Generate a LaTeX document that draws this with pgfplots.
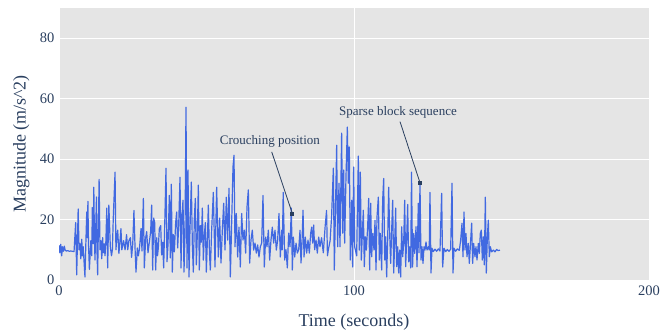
\documentclass[border=0pt]{standalone}
\usepackage{pgfplots}
\pgfplotsset{compat=1.18}
\usepackage{fontspec}
\setmainfont{Liberation Serif}
\definecolor{bgc}{HTML}{E5E5E5}
\definecolor{txt}{HTML}{2A3F5F}
\definecolor{arr}{HTML}{2A3F5F}
\definecolor{line}{HTML}{4169E1}
\begin{document}
\begin{tikzpicture}
\useasboundingbox (-59bp,-53bp) rectangle (608bp,280bp);
\begin{axis}[
  scale only axis,
  width=590bp, height=272bp,
  xmin=0, xmax=200, ymin=0, ymax=90,
  xtick={0,100,200}, ytick={0,20,40,60,80},
  grid=major,
  major grid style={white, line width=0.9bp},
  axis background/.style={fill=bgc},
  axis line style={draw=none},
  tick style={draw=none},
  /pgf/number format/assume math mode=true,
  ticklabel style={font=\fontsize{14.5bp}{17bp}\selectfont, text=txt},
  xticklabel style={yshift=-2bp},
  yticklabel style={xshift=-1bp},
  every axis x label/.style={at={(axis description cs:0.5,-0.154)},anchor=center},
  every axis y label/.style={at={(axis description cs:-0.064,0.5)},rotate=90,anchor=center},
  label style={font=\fontsize{18bp}{21bp}\selectfont, text=txt},
  xlabel={Time (seconds)},
  ylabel={Magnitude (m/s\textasciicircum 2)},
  clip=true,
]
\addplot[line, line width=1.2bp, line join=round] table {
0 11.5
0.3 9
0.6 11.8
0.9 8
1.2 11
1.5 9.5
1.8 11.2
2.1 9.8
2.5 9.6
3.0 9.7
3.5 9.5
4.0 9.6
4.5 9.5
5.1 9.4
5.65 19
6.0 1.7
6.5 23.5
6.8 10
7.1 12
7.4 7
7.7 13.5
8.0 8
8.2 11
8.5 6
8.8 1
9.1 12
9.4 22.5
9.6 14
9.8 26
10.0 12
10.3 3.5
10.8 13
11.1 8
11.3 24
11.6 12
11.8 30.7
12.0 15
12.2 6.6
12.7 27.5
12.9 9
13.1 1.7
13.6 33.3
13.9 10
14.2 13
14.5 7
14.8 14
15.0 9
15.3 12
15.6 8
15.9 13
16.2 23.8
16.5 4
16.9 24.8
17.4 11
17.8 8
18.1 10
18.4 20.5
19.0 35.7
19.3 10
19.6 14
19.9 16.5
20.3 8.8
20.6 12
21.0 17
21.3 10
21.5 11
21.9 13
22.4 10
22.9 15
23.3 10
23.7 13
24.2 14
24.6 7.5
25.0 12
25.4 23
25.8 10
26.1 2.6
26.56 10.6
26.9 8
27.23 10
27.5 13
27.8 17
28.14 9.6
28.6 27
28.93 4
29.38 14
29.72 16
30.17 9
30.62 12.5
31.07 16
31.41 24.8
31.75 3.3
32.09 20.5
32.43 19
32.77 3.3
33.11 14
33.4 8
33.67 10.6
34.01 17
34.47 18
34.8 8.3
35.14 12.5
35.48 4
35.93 22
36.27 37
36.61 6
36.95 11.6
37.4 28
37.74 7.3
38.08 31.7
38.42 2.6
38.76 15
39.1 9.3
39.55 19
39.89 22.5
40.23 10.6
40.57 18
41.02 34
41.36 4
41.7 21.5
42.04 26.4
42.37 2.6
42.71 15
43.05 57.2
43.39 4
43.73 36.4
44.07 1
44.41 17
44.86 32.4
45.2 11.6
45.54 2.6
45.88 20.5
46.22 27
46.56 5
46.9 15.5
47.23 31.4
47.57 3.3
47.91 18
48.25 12.5
48.59 23.8
48.93 6.6
49.27 15
49.61 19
49.94 2.6
50.28 12.5
50.62 24.8
51.0 9
51.3 3.3
51.75 16.5
52.31 29
52.88 4.3
53.44 30.7
54.01 7.6
54.46 20.5
54.91 5.6
55.37 16.5
55.82 25.4
56.27 9.9
56.72 27.4
57.17 13.2
57.63 30.4
58.08 1
58.53 18.8
58.98 37.4
59.32 41.3
59.66 11
60.11 22
60.56 7.6
61.01 17.5
61.47 4.3
61.92 22
62.37 13.2
62.82 16.5
63.27 8.9
63.73 24.1
64.18 29.8
64.63 5.6
65.08 13.2
65.53 16.5
65.99 9.9
66.44 12.2
66.89 8.9
67.34 11.6
67.79 7.6
68.25 11
68.7 12.2
69.15 28
69.6 4.3
70.05 14.2
70.51 11
70.96 16.5
71.41 6.6
71.86 13.2
72.31 17.5
72.77 12.2
73.22 16.5
73.67 9.9
74.12 13.2
74.57 22
75.03 7.6
75.48 16.5
75.7 10
76.0 29
76.5 6.6
76.95 10
77.4 4
77.86 15.5
78.31 11
78.76 23.8
79.1 3.3
79.44 14.2
79.9 7.6
80.35 12.2
80.8 8.9
81.25 10
81.7 16.5
82.04 5.6
82.38 12.6
82.72 23.1
83.06 7.6
83.5 14.2
83.96 8.9
84.41 13.2
84.86 8.9
85.32 15.5
85.66 17.5
86.0 12.2
86.33 18.2
86.67 10
87.12 13.2
87.57 8.9
88.03 14.2
88.47 11
89.0 14
89.6 9
90.2 17.5
90.7 23
91.0 8
91.3 10
91.9 13
92.4 20.9
93.0 37
93.33 3.3
93.78 26.4
94.12 44.6
94.46 11
94.91 32
95.25 11
95.81 48.6
96.15 15.5
96.49 36.4
96.83 12.2
97.28 34
97.74 50.6
98.07 32
98.41 44
98.75 6.6
99.2 26.4
99.54 4.3
99.88 37.4
100.22 11
100.9 8
101.47 41
101.81 9.9
102.15 35.7
102.49 6.6
102.83 15.4
103.16 23.1
103.5 4.4
103.84 14.3
104.18 9.9
104.63 17.6
104.97 27
105.31 3.3
105.65 25.4
105.99 7.7
106.33 15.4
106.78 9.9
107.12 19.8
107.46 3.3
107.8 20.9
108.25 27.4
108.59 6.6
108.93 15.4
109.38 3.3
109.72 26.4
110.06 33.6
110.4 6.6
110.74 14.3
111.07 1
111.41 13.2
111.75 30.7
112.09 15.4
112.43 5.5
112.77 16.5
113.11 26.4
113.45 2.3
113.79 12.1
114.12 23.8
114.46 4.4
114.8 11
115.14 2.3
115.48 9.9
115.82 1
116.16 17.6
116.5 7.7
116.84 12.1
117.18 26.4
117.51 4.4
117.85 13.2
118.19 25
118.53 6
118.87 11
119.21 4
119.5 35.7
119.85 4.3
120.23 15.4
120.57 8.8
121.02 17.6
121.36 4.4
121.8 25.4
122.03 9
122.37 32
122.71 6.6
123.05 11
123.39 5.5
123.73 11
124.07 9.9
124.41 12.6
124.75 9.9
125.2 11
125.5 9.9
125.76 29
126.1 2.3
126.44 10.5
126.89 9.4
127.45 10.2
128.02 9.5
128.58 10.3
129.15 9.6
129.71 28.7
130.05 4.3
130.5 10.5
131.07 9.4
131.64 10.1
132.2 9.5
132.77 10.2
133.22 32
133.56 2.3
133.9 10.5
134.46 9.5
135.03 10.3
135.7 9.8
136.16 13.2
136.61 18.8
136.95 7.7
137.29 22.5
137.62 9.9
137.96 15.4
138.3 7.7
138.75 12.1
139.09 5.5
139.43 11
139.88 18.8
140.22 5.5
140.56 12.1
141.01 7.7
141.35 11
141.69 6.6
142.14 12.1
142.48 8.8
142.82 15.4
143.16 16.5
143.5 6.6
143.84 14.3
144.18 5
144.52 27.4
144.86 2.3
145.2 14.3
145.53 19.8
145.87 7.7
146.21 11
146.66 9.3
147.23 9.9
147.79 9.3
148.36 10.1
148.92 9.7
149.49 9.9
};
\draw[arr, line width=0.8bp] (axis cs:72.1,42.4) -- (axis cs:79.1,22.0);
\node[fill=arr, minimum size=4bp, inner sep=0pt] at (axis cs:79.1,22.0) {};
\node[text=txt, font=\fontsize{13bp}{15bp}\selectfont, inner sep=0pt] at (axis cs:71.5,45.8) {Crouching position};
\draw[arr, line width=0.8bp] (axis cs:115.6,52.4) -- (axis cs:122.4,32.1);
\node[fill=arr, minimum size=4bp, inner sep=0pt] at (axis cs:122.4,32.1) {};
\node[text=txt, font=\fontsize{13bp}{15bp}\selectfont, inner sep=0pt] at (axis cs:114.9,55.4) {Sparse block sequence};
\end{axis}
\end{tikzpicture}
\end{document}
